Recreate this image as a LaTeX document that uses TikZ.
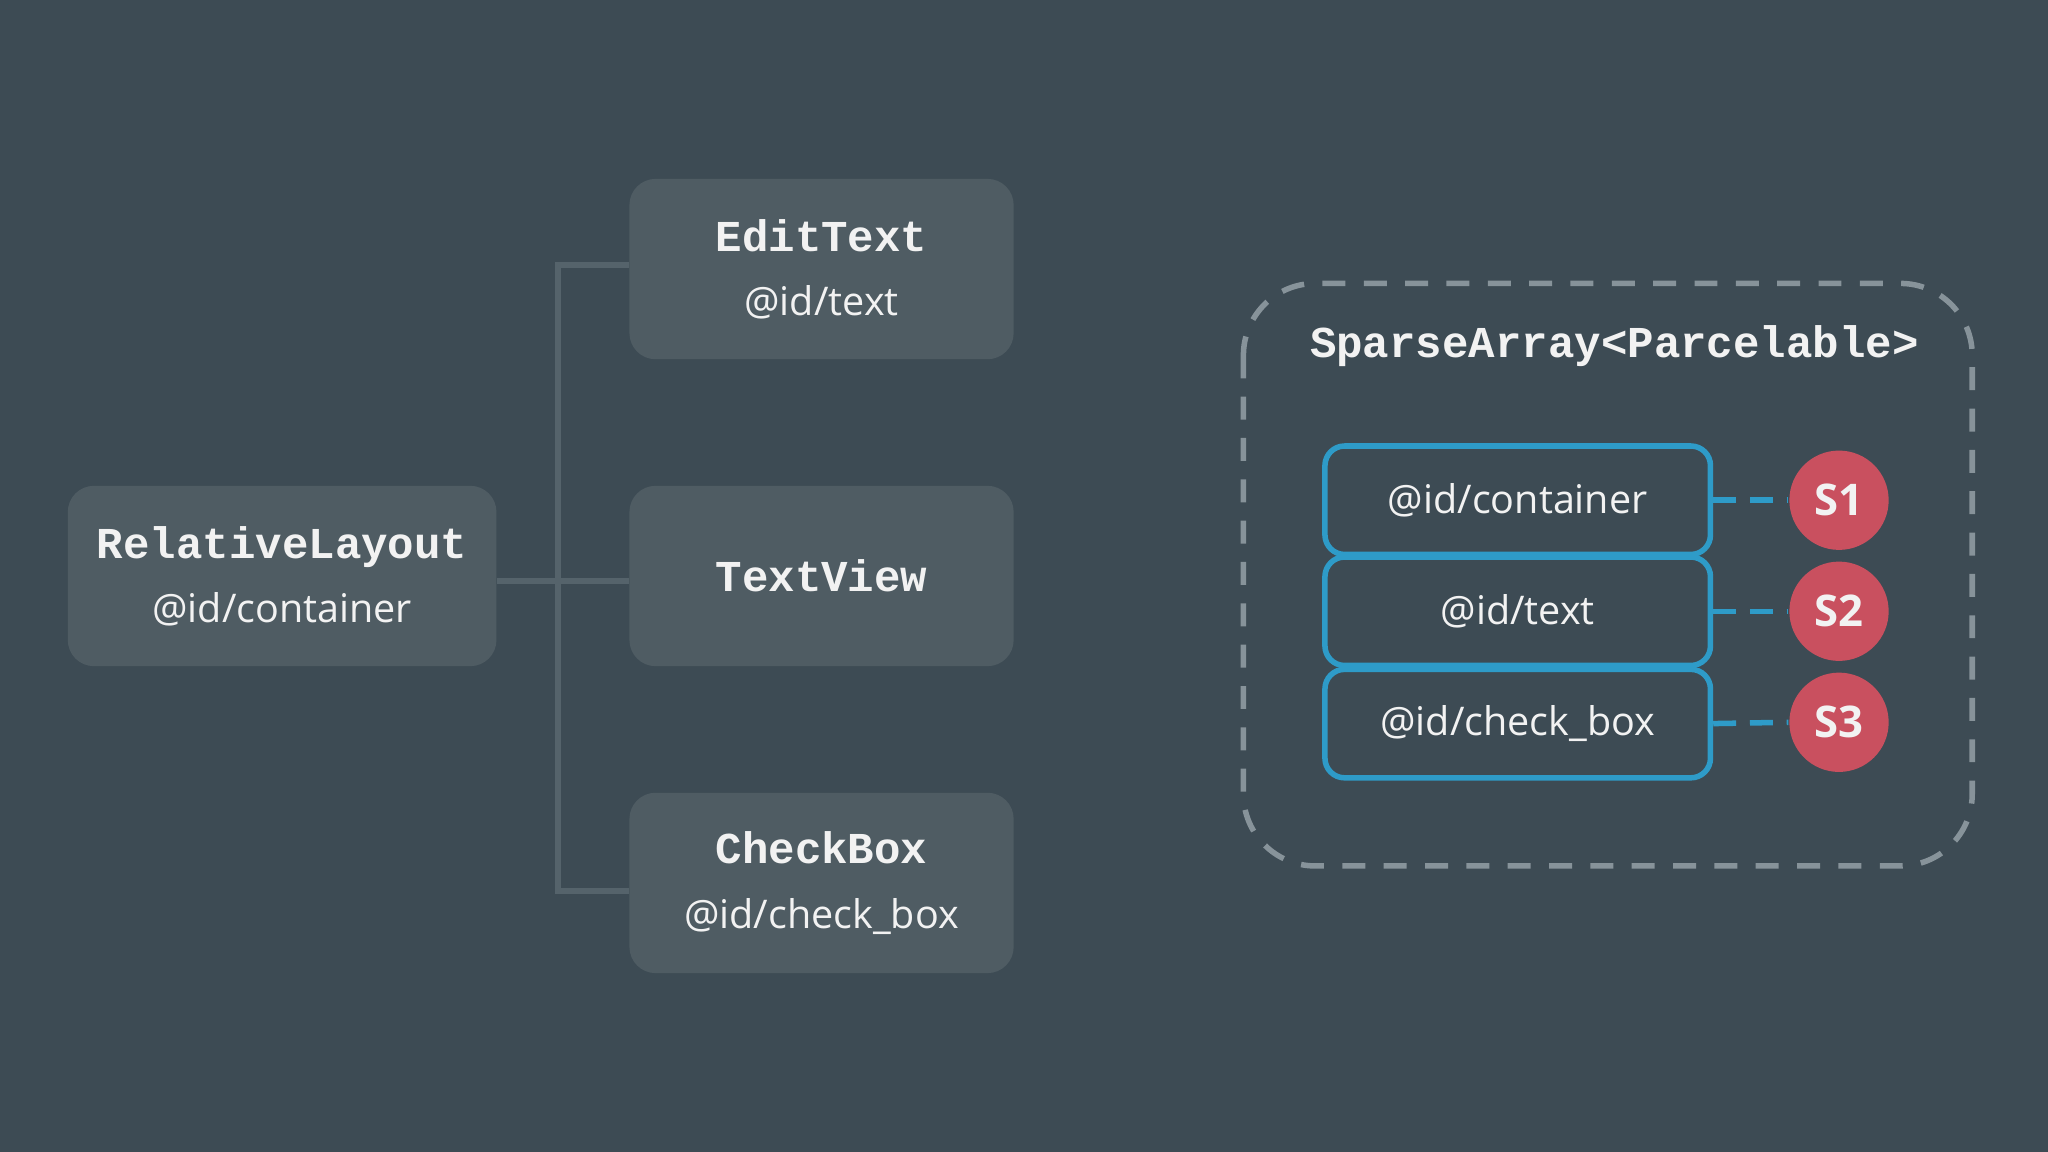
\documentclass[tikz,border=0pt]{standalone}
\usepackage{fontspec}
\setmainfont{Open Sans}
\setmonofont{Liberation Mono}
\definecolor{bg}{HTML}{3D4B54}
\definecolor{boxc}{HTML}{4F5C63}
\definecolor{linec}{HTML}{55636B}
\definecolor{dashc}{HTML}{87939A}
\definecolor{bluec}{HTML}{2E9BC8}
\definecolor{redc}{HTML}{C9505F}
\definecolor{txt}{HTML}{F2F2F2}
\begin{document}
\begin{tikzpicture}[x=0.01cm,y=-0.01cm,
  gbox/.style={fill=boxc,rounded corners=0.2cm,minimum width=2.94cm,minimum height=1.38cm,align=center,text=txt,inner sep=0pt},
  mono/.style={font=\ttfamily\bfseries\fontsize{9.6}{12}\selectfont},
  sans/.style={font=\fontsize{8.6}{12}\selectfont},
  bbox/.style={draw=bluec,line width=1.2pt,rounded corners=0.15cm,minimum width=2.95cm,minimum height=0.83cm,text=txt,font=\fontsize{8.6}{10}\selectfont,inner sep=0pt},
  scirc/.style={circle,fill=redc,minimum size=0.76cm,inner sep=0pt,text=txt,font=\bfseries\fontsize{9.5}{10}\selectfont},
  conn/.style={draw=linec,line width=1.3pt},
  bdash/.style={draw=bluec,line width=1.2pt,dash pattern=on 5pt off 3pt}]
\fill[bg] (0,0) rectangle (1568,882);
\node[gbox,minimum width=3.28cm] (rl) at (216,441) {{\ttfamily\bfseries\fontsize{9.6}{12}\selectfont RelativeLayout}\\[2pt]{\fontsize{8.6}{12}\selectfont @id/container}};
\node[gbox] (et) at (629,206) {{\ttfamily\bfseries\fontsize{9.6}{12}\selectfont EditText}\\[2pt]{\fontsize{8.6}{12}\selectfont @id/text}};
\node[gbox] (tv) at (629,441) {{\ttfamily\bfseries\fontsize{9.6}{12}\selectfont TextView}};
\node[gbox] (cb) at (629,676) {{\ttfamily\bfseries\fontsize{9.6}{12}\selectfont CheckBox}\\[2pt]{\fontsize{8.6}{12}\selectfont @id/check\_box}};
\coordinate (j) at (427,445);
\draw[conn] (rl.east|-j) -- (tv.west|-j);
\draw[conn] (et.west|-0,203) -- (427,203) -- (427,682) -- (cb.west|-0,682);
\draw[draw=dashc,line width=1.2pt,dash pattern=on 5pt off 4pt,rounded corners=0.55cm] (952,217) rectangle (1510,663);
\node[mono,text=txt] (title) at (1236,265) {SparseArray<Parcelable>};
\node[bbox] (b1) at (1162,383) {@id/container};
\node[bbox] (b2) at (1162,468) {@id/text};
\node[bbox] (b3) at (1162,554) {@id/check\_box};
\node[scirc] (s1) at (1408,383) {S1};
\node[scirc] (s2) at (1408,468) {S2};
\node[scirc] (s3) at (1408,553) {S3};
\draw[bdash] (b1.east) -- (s1.west);
\draw[bdash] (b2.east) -- (s2.west);
\draw[bdash] (b3.east) -- (s3.west);
\end{tikzpicture}
\end{document}
